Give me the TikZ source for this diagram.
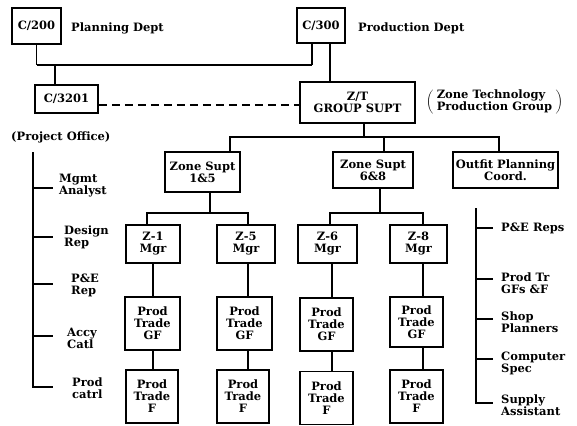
\documentclass[tikz,border=0pt]{standalone}
\usepackage{fontspec}
\setmainfont{DejaVu Serif}
\begin{document}
\begin{tikzpicture}[x=1pt,y=-1pt,
  every node/.style={font=\fontsize{11.5}{12}\selectfont\bfseries, inner sep=1pt, text=black},
  box/.style={draw, line width=1.5pt, align=center},
  lbl/.style={align=left, anchor=west},
  conn/.style={line width=1.4pt},
  busline/.style={line width=2.6pt},
  dashln/.style={line width=1.4pt, dash pattern=on 8pt off 5pt}]
\fill[white] (0,0) rectangle (577,425);
\useasboundingbox (0,0) rectangle (577,425);

% top level
\node[box, minimum width=49pt, minimum height=36pt] (c200) at (36.5,26) {C/200};
\node[lbl] (plan) at (70,28) {Planning Dept};
\node[box, minimum width=48pt, minimum height=35pt] (c300) at (321,25.5) {C/300};
\node[lbl] (prod) at (357,28) {Production Dept};
\node[box, minimum width=63pt, minimum height=28pt] (c3201) at (66.5,99) {C/3201};
\node[box, minimum width=115pt, minimum height=41pt] (zt) at (357.5,102.5) {Z/T\\GROUP SUPT};
\node (ztl) at (494.5,102) {$\left(\;\vcenter{\hbox{\begin{tabular}{@{}l@{}}Zone Technology\\Production Group\end{tabular}}}\;\right)$};
\node[lbl] (po) at (10,137) {(Project Office)};

% zone supts
\node[box, minimum width=75pt, minimum height=40pt] (zs1) at (202.5,172) {Zone Supt\\1\&5};
\node[box, minimum width=80pt, minimum height=36pt] (zs2) at (373,170) {Zone Supt\\6\&8};
\node[box, minimum width=105pt, minimum height=36pt] (op) at (505.5,170) {Outfit Planning\\Coord.};

% managers
\node[box, minimum width=54pt, minimum height=38pt] (m1) at (153,244) {Z-1\\Mgr};
\node[box, minimum width=58pt, minimum height=38pt] (m2) at (246,244) {Z-5\\Mgr};
\node[box, minimum width=59pt, minimum height=38pt] (m3) at (327.5,244) {Z-6\\Mgr};
\node[box, minimum width=57pt, minimum height=38pt] (m4) at (418.5,244) {Z-8\\Mgr};

% trade GF
\node[box, minimum width=55pt, minimum height=53pt] (g1) at (152.5,323.5) {Prod\\Trade\\GF};
\node[box, minimum width=55pt, minimum height=53pt] (g2) at (244.5,323.5) {Prod\\Trade\\GF};
\node[box, minimum width=53pt, minimum height=53pt] (g3) at (326.5,324.5) {Prod\\Trade\\GF};
\node[box, minimum width=53pt, minimum height=50pt] (g4) at (416.5,322) {Prod\\Trade\\GF};

% trade F
\node[box, minimum width=52pt, minimum height=53pt] (f1) at (152,396.5) {Prod\\Trade\\F};
\node[box, minimum width=52pt, minimum height=53pt] (f2) at (243,396.5) {Prod\\Trade\\F};
\node[box, minimum width=53pt, minimum height=53pt] (f3) at (326.5,398) {Prod\\Trade\\F};
\node[box, minimum width=53pt, minimum height=53pt] (f4) at (416.5,396.5) {Prod\\Trade\\F};

% connectors top
\coordinate (busA) at (36.5,65);
\coordinate (busB) at (312,65);
\draw[conn] (c200.south) -- (busA);
\draw[conn] (busB |- c300.south) -- (busB);
\draw[busline] (busA) -- (busB);
\draw[conn] (c3201.north -| 55,0) -- (55,65);
\draw[conn] (c300.south -| 330,0) -- (zt.north -| 330,0);
\draw[dashln] (c3201.east |- 0,105) -- (zt.west |- 0,105);

% Z/T to zone supts
\coordinate (j0) at (364,137);
\draw[conn] (zt.south -| j0) -- (j0);
\draw[conn] (zs1.north -| 230,0) -- (230,137) -- (499,137) -- (op.north -| 499,0);
\draw[conn] (zs2.north -| 384,0) -- (384,137);

% zone supts to managers
\draw[conn] (zs1.south -| 210,0) -- (210,213);
\draw[conn] (m1.north -| 147,0) -- (147,213) -- (248,213) -- (m2.north -| 248,0);
\draw[conn] (zs2.south -| 380,0) -- (380,213);
\draw[conn] (m3.north -| 330,0) -- (330,213) -- (423,213) -- (m4.north -| 423,0);

% managers down
\foreach \i/\xx in {1/153,2/248,3/332,4/423}{
  \draw[conn] (m\i.south -| \xx,0) -- (g\i.north -| \xx,0);
  \draw[conn] (g\i.south -| \xx,0) -- (f\i.north -| \xx,0);
}

% left bracket (project office)
\draw[conn] (33,152) -- (33,387) -- (53,387);
\foreach \yy in {188,237,284,336} \draw[conn] (33,\yy) -- (53,\yy);
\node[lbl] (ma) at (58,186) {Mgmt\\Analyst};
\node[lbl] (dr) at (63,237) {Design\\Rep};
\node[lbl] (pe) at (70,285) {P\&E\\Rep};
\node[lbl] (ac) at (66,338) {Accy\\Catl};
\node[lbl] (pc) at (71,388) {Prod\\catrl};

% right bracket
\draw[conn] (476,208) -- (476,403) -- (493,403);
\foreach \yy in {228,279,319,359} \draw[conn] (476,\yy) -- (493,\yy);
\node[lbl] (per) at (500,228) {P\&E Reps};
\node[lbl] (ptg) at (500,283) {Prod Tr\\GFs \&F};
\node[lbl] (sp) at (500,322) {Shop\\Planners};
\node[lbl] (cs) at (500,363) {Computer\\Spec};
\node[lbl] (sa) at (500,405) {Supply\\Assistant};
\end{tikzpicture}
\end{document}
